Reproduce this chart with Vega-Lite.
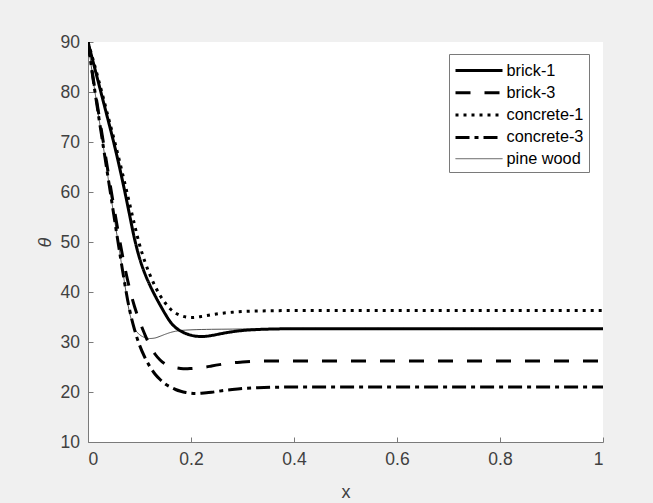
{
  "$schema": "https://vega.github.io/schema/vega-lite/v6.json",
  "width": 515,
  "height": 400,
  "autosize": {"type": "none"},
  "padding": {"left": 88, "top": 42, "right": 50, "bottom": 61},
  "background": "#f0f0f0",
  "config": {
    "view": {"fill": "white", "stroke": null},
    "font": "Liberation Sans",
    "axis": {"grid": false, "domainColor": "#7a7a7a", "tickColor": "#7a7a7a", "labelColor": "#404040", "titleColor": "#404040", "labelFontSize": 17.5, "titleFontWeight": "normal", "titleFontSize": 18, "tickSize": -5, "labelFont": "Liberation Sans"}
  },
  "data": {
    "values": [
      {"x": 0, "brick-1": 90, "brick-3": 90, "concrete-1": 90, "concrete-3": 90, "pine wood": 90},
      {"x": 0.01, "brick-1": 86.0, "brick-3": 82.8, "concrete-1": 86.4, "concrete-3": 82.5, "pine wood": 82.5},
      {"x": 0.02, "brick-1": 82.0, "brick-3": 76.2, "concrete-1": 82.6, "concrete-3": 75.6, "pine wood": 75.6},
      {"x": 0.03, "brick-1": 78.0, "brick-3": 69.8, "concrete-1": 78.7, "concrete-3": 68.9, "pine wood": 68.9},
      {"x": 0.04, "brick-1": 74.0, "brick-3": 63.4, "concrete-1": 74.7, "concrete-3": 62.2, "pine wood": 62.2},
      {"x": 0.05, "brick-1": 69.9, "brick-3": 57.2, "concrete-1": 70.8, "concrete-3": 55.5, "pine wood": 55.5},
      {"x": 0.06, "brick-1": 65.5, "brick-3": 51.2, "concrete-1": 66.7, "concrete-3": 48.9, "pine wood": 48.9},
      {"x": 0.07, "brick-1": 60.8, "brick-3": 45.7, "concrete-1": 62.4, "concrete-3": 42.5, "pine wood": 42.5},
      {"x": 0.08, "brick-1": 55.8, "brick-3": 41.0, "concrete-1": 58.0, "concrete-3": 36.8, "pine wood": 36.2},
      {"x": 0.09, "brick-1": 50.8, "brick-3": 37.2, "concrete-1": 53.6, "concrete-3": 32.6, "pine wood": 32.8},
      {"x": 0.10, "brick-1": 46.8, "brick-3": 34.2, "concrete-1": 49.5, "concrete-3": 29.4, "pine wood": 31.5},
      {"x": 0.11, "brick-1": 43.8, "brick-3": 31.6, "concrete-1": 46.2, "concrete-3": 27.0, "pine wood": 30.9},
      {"x": 0.12, "brick-1": 41.4, "brick-3": 29.3, "concrete-1": 43.5, "concrete-3": 25.1, "pine wood": 30.7},
      {"x": 0.13, "brick-1": 39.3, "brick-3": 27.6, "concrete-1": 41.2, "concrete-3": 23.6, "pine wood": 30.8},
      {"x": 0.14, "brick-1": 37.4, "brick-3": 26.4, "concrete-1": 39.3, "concrete-3": 22.5, "pine wood": 31.15},
      {"x": 0.15, "brick-1": 35.6, "brick-3": 25.6, "concrete-1": 37.8, "concrete-3": 21.6, "pine wood": 31.55},
      {"x": 0.16, "brick-1": 34.0, "brick-3": 25.1, "concrete-1": 36.6, "concrete-3": 21.0, "pine wood": 31.9},
      {"x": 0.17, "brick-1": 32.9, "brick-3": 24.85, "concrete-1": 35.8, "concrete-3": 20.5, "pine wood": 32.15},
      {"x": 0.18, "brick-1": 32.2, "brick-3": 24.7, "concrete-1": 35.3, "concrete-3": 20.15, "pine wood": 32.3},
      {"x": 0.19, "brick-1": 31.7, "brick-3": 24.65, "concrete-1": 35.0, "concrete-3": 19.9, "pine wood": 32.38},
      {"x": 0.20, "brick-1": 31.35, "brick-3": 24.7, "concrete-1": 34.9, "concrete-3": 19.75, "pine wood": 32.43},
      {"x": 0.21, "brick-1": 31.15, "brick-3": 24.78, "concrete-1": 34.95, "concrete-3": 19.7, "pine wood": 32.47},
      {"x": 0.22, "brick-1": 31.1, "brick-3": 24.88, "concrete-1": 35.1, "concrete-3": 19.75, "pine wood": 32.5},
      {"x": 0.23, "brick-1": 31.15, "brick-3": 25.0, "concrete-1": 35.27, "concrete-3": 19.83, "pine wood": 32.52},
      {"x": 0.24, "brick-1": 31.3, "brick-3": 25.2, "concrete-1": 35.45, "concrete-3": 19.95, "pine wood": 32.54},
      {"x": 0.26, "brick-1": 31.7, "brick-3": 25.55, "concrete-1": 35.75, "concrete-3": 20.25, "pine wood": 32.56},
      {"x": 0.28, "brick-1": 32.05, "brick-3": 25.85, "concrete-1": 35.95, "concrete-3": 20.5, "pine wood": 32.58},
      {"x": 0.30, "brick-1": 32.3, "brick-3": 26.0, "concrete-1": 36.1, "concrete-3": 20.7, "pine wood": 32.6},
      {"x": 0.33, "brick-1": 32.5, "brick-3": 26.15, "concrete-1": 36.2, "concrete-3": 20.85, "pine wood": 32.6},
      {"x": 0.36, "brick-1": 32.6, "brick-3": 26.2, "concrete-1": 36.25, "concrete-3": 20.95, "pine wood": 32.6},
      {"x": 0.40, "brick-1": 32.65, "brick-3": 26.2, "concrete-1": 36.3, "concrete-3": 21.0, "pine wood": 32.6},
      {"x": 0.50, "brick-1": 32.65, "brick-3": 26.2, "concrete-1": 36.3, "concrete-3": 21.0, "pine wood": 32.6},
      {"x": 0.60, "brick-1": 32.65, "brick-3": 26.2, "concrete-1": 36.3, "concrete-3": 21.0, "pine wood": 32.6},
      {"x": 0.70, "brick-1": 32.65, "brick-3": 26.2, "concrete-1": 36.3, "concrete-3": 21.0, "pine wood": 32.6},
      {"x": 0.80, "brick-1": 32.65, "brick-3": 26.2, "concrete-1": 36.3, "concrete-3": 21.0, "pine wood": 32.6},
      {"x": 0.90, "brick-1": 32.65, "brick-3": 26.2, "concrete-1": 36.3, "concrete-3": 21.0, "pine wood": 32.6},
      {"x": 1.00, "brick-1": 32.65, "brick-3": 26.2, "concrete-1": 36.3, "concrete-3": 21.0, "pine wood": 32.6}
    ]
  },
  "transform": [
    {"fold": ["pine wood", "brick-1", "brick-3", "concrete-1", "concrete-3"], "as": ["series", "theta"]}
  ],
  "mark": {"type": "line", "interpolate": "monotone", "clip": true},
  "encoding": {
    "x": {
      "field": "x", "type": "quantitative",
      "scale": {"domain": [0, 1], "nice": false},
      "axis": {"title": "x", "values": [0, 0.2, 0.4, 0.6, 0.8, 1], "format": "~g", "labelPadding": 13, "titleX": 257.5, "titleY": 50, "titleBaseline": "middle"}
    },
    "y": {
      "field": "theta", "type": "quantitative",
      "scale": {"domain": [10, 90], "nice": false},
      "axis": {"title": "θ", "titleFontStyle": "italic", "values": [10, 20, 30, 40, 50, 60, 70, 80, 90], "labelPadding": 13.5, "titleX": -43, "titleY": 200, "titleBaseline": "middle", "titleAlign": "center", "titleAngle": -90}
    },
    "strokeDash": {
      "field": "series", "type": "nominal",
      "scale": {"domain": ["brick-1", "brick-3", "concrete-1", "concrete-3", "pine wood"], "range": [[1, 0], [15, 14], [3, 5], [14, 5, 4, 5], [1, 0]]},
      "legend": {"title": null}
    },
    "strokeWidth": {
      "field": "series", "type": "ordinal",
      "scale": {"type": "ordinal", "domain": ["brick-1", "brick-3", "concrete-1", "concrete-3", "pine wood"], "range": [3, 3, 3, 3, 1]},
      "legend": {"title": null}
    },
    "color": {
      "field": "series", "type": "nominal",
      "scale": {"domain": ["brick-1", "brick-3", "concrete-1", "concrete-3", "pine wood"], "range": ["#000000", "#000000", "#000000", "#000000", "#505050"]},
      "legend": {
        "title": null, "orient": "none", "legendX": 361, "legendY": 12,
        "symbolType": "M-2.35,0L2.35,0", "symbolSize": 400, "symbolOffset": 13.5, "labelFontSize": 16.3, "labelColor": "#000000",
        "labelOffset": 16, "padding": 5, "strokeColor": "#7a7a7a", "fillColor": "#ffffff", "rowPadding": 2.3, "labelFont": "Liberation Sans"
      }
    }
  }
}
